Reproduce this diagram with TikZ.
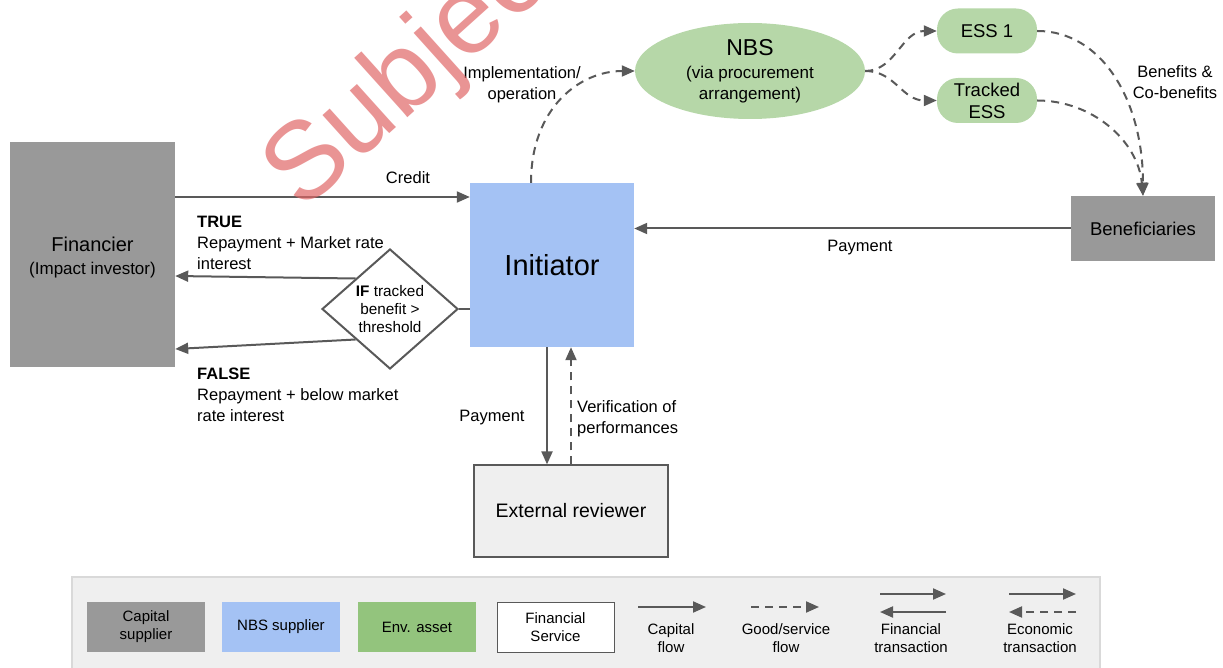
\documentclass[tikz,border=0pt]{standalone}
\usepackage{fontspec}
\setmainfont{Liberation Sans}
\usetikzlibrary{arrows.meta,shapes.geometric}
\definecolor{capgray}{HTML}{999999}
\definecolor{nbsblue}{HTML}{A4C2F4}
\definecolor{assetgreen}{HTML}{B6D7A8}
\definecolor{envgreen}{HTML}{93C47D}
\definecolor{svcgray}{HTML}{EFEFEF}
\definecolor{linegray}{HTML}{595959}
\definecolor{framegray}{HTML}{D9D9D9}
\definecolor{stamp}{HTML}{E06666}
\newcommand{\fsz}[2]{\fontsize{#1}{#2}\selectfont}
\begin{document}
\begin{tikzpicture}[x=1pt,y=-1pt,
  box/.style={rectangle, inner sep=0pt, align=center, text=black},
  capbox/.style={box, fill=capgray},
  nbsbox/.style={box, fill=nbsblue},
  assetbox/.style={box, fill=assetgreen, rounded corners=21pt, minimum width=100pt, minimum height=45pt},
  flow/.style={draw=linegray, line width=2pt, -{Triangle[length=13pt,width=11pt]}},
  goods/.style={flow, dash pattern=on 8pt off 6pt},
  plainline/.style={draw=linegray, line width=2pt},
  lbl/.style={inner sep=0pt, font=\fsz{16.5}{21}, align=center},
  keylbl/.style={inner sep=0pt, font=\fsz{15}{18}, align=center},
  keybox/.style={box, minimum width=118pt, minimum height=50pt, font=\fsz{15}{18}},
]
\useasboundingbox (0,0) rectangle (1223,668);

% level helpers
\coordinate (ycredit) at (0,197);
\coordinate (ytrue) at (0,276);
\coordinate (yfalse) at (0,349);

% main actors
\node[capbox, minimum width=165pt, minimum height=225pt, font=\fsz{20}{23}] (fin) at (92.5,254.5)
  {\rule{0pt}{20pt}Financier\\{\fsz{17}{23}(Impact investor)}};
\node[nbsbox, minimum width=164pt, minimum height=164pt, font=\fsz{29}{34}] (ini) at (552,265) {Initiator};
\node[ellipse, fill=assetgreen, minimum width=230pt, minimum height=96pt, inner sep=0pt,
  align=center, font=\fsz{17}{21}] (nbs) at (750,71)
  {{\fsz{23}{25}NBS}\\[2pt](via procurement\\arrangement)};
\node[assetbox, font=\fsz{18.5}{22}] (ess1) at (987,31) {ESS 1};
\node[assetbox, font=\fsz{18.5}{22}] (tess) at (987,100.5) {Tracked\\ESS};
\node[capbox, minimum width=144pt, minimum height=65pt, font=\fsz{18.5}{22}] (ben) at (1143,228.5) {Beneficiaries};
\node[diamond, draw=linegray, line width=2pt, fill=white, minimum width=136pt, minimum height=120pt,
  inner sep=0pt, align=center, font=\fsz{15.3}{18}] (dia) at (390,309)
  {\textbf{IF} tracked\\benefit >\\threshold};
\node[box, fill=svcgray, draw=linegray, line width=1.2pt, minimum width=194pt, minimum height=92pt,
  font=\fsz{19.5}{22}] (ext) at (571,511) {External reviewer};

% flows
\draw[flow] (fin.east |- ycredit) -- (ini.west |- ycredit);
\draw[flow] (ben.west) -- (ini.east |- ben.west);
\draw[flow] (dia.north west) -- (fin.east |- ytrue);
\draw[flow] (dia.south west) -- (fin.east |- yfalse);
\draw[plainline] (dia.east) -- (ini.west |- dia.east);
\draw[goods] ([xshift=-21pt]ini.north) .. controls +(0,-75) and +(-55,0) .. (nbs.west);
\draw[goods] (nbs.east) .. controls +(30,0) and +(-35,0) .. (ess1.west);
\draw[goods] (nbs.east) .. controls +(30,0) and +(-35,0) .. (tess.west);
\draw[goods] (ess1.east) .. controls +(65,0) and +(0,-95) .. (ben.north);
\draw[goods] (tess.east) .. controls +(55,0) and +(-5,-55) .. (ben.north);
\draw[flow] ([xshift=-5pt]ini.south) -- ([xshift=-5pt]ini.south |- ext.north);
\draw[goods] (ext.north) -- (ext.north |- ini.south);

% flow labels
\node[lbl] (lcredit) at (408,178) {Credit};
\node[lbl] (lpayben) at (860,247.5) {Payment};
\node[lbl, align=left, anchor=west] (ltrue) at (197,242.5) {\textbf{TRUE}\\Repayment + Market rate\\interest};
\node[lbl, align=left, anchor=west] (lfalse) at (197,395) {\textbf{FALSE}\\Repayment + below market\\rate interest};
\node[lbl] (limpl) at (522,85) {Implementation/\\operation};
\node[lbl] (lbenef) at (1175,82.5) {Benefits \&\\Co-benefits};
\node[lbl] (lpayext) at (492,418) {Payment};
\node[lbl, align=left, anchor=west] (lverif) at (577,419) {Verification of\\performances};

% key
\node[draw=framegray, fill=svcgray, line width=1.5pt, minimum width=1028pt, minimum height=100pt,
  inner sep=0pt] (key) at (586,627) {};
\node[keybox, fill=capgray] (kcap) at (146,627) {Capital\\supplier};
\node[keybox, fill=nbsblue] (knbs) at (281,627) {NBS supplier};
\node[keybox, fill=envgreen] (kenv) at (417,627) {Env. asset};
\node[keybox, fill=white, draw=linegray, line width=1pt, minimum width=117pt] (kfin) at (555.5,627) {Financial\\Service};

\coordinate (kcapA) at (638,607);   \coordinate (kcapB) at (706,607);
\coordinate (kgoodA) at (751,607);  \coordinate (kgoodB) at (819,607);
\coordinate (kftA) at (880,594);    \coordinate (kftB) at (946,594);
\coordinate (kfbA) at (946,612);    \coordinate (kfbB) at (880,612);
\coordinate (ketA) at (1009,594);   \coordinate (ketB) at (1076,594);
\coordinate (kebA) at (1076,612);   \coordinate (kebB) at (1009,612);
\draw[flow] (kcapA) -- (kcapB);
\draw[goods] (kgoodA) -- (kgoodB);
\draw[flow] (kftA) -- (kftB);
\draw[flow] (kfbA) -- (kfbB);
\draw[flow] (ketA) -- (ketB);
\draw[goods] (kebA) -- (kebB);
\node[keylbl] (lkcap) at (671,638) {Capital\\flow};
\node[keylbl] (lkgood) at (786,638) {Good/service\\flow};
\node[keylbl] (lkfin) at (911,638) {Financial\\transaction};
\node[keylbl] (lkeco) at (1040,638) {Economic\\transaction};

% stamp
\begin{scope}
\clip (0,0) rectangle (1223,668);
\node[rotate=42, anchor=base west, inner sep=0pt, text=stamp, opacity=0.7, font=\fsz{110}{110}] (stampword) at (302,213) {Subject};
\end{scope}
\end{tikzpicture}
\end{document}
